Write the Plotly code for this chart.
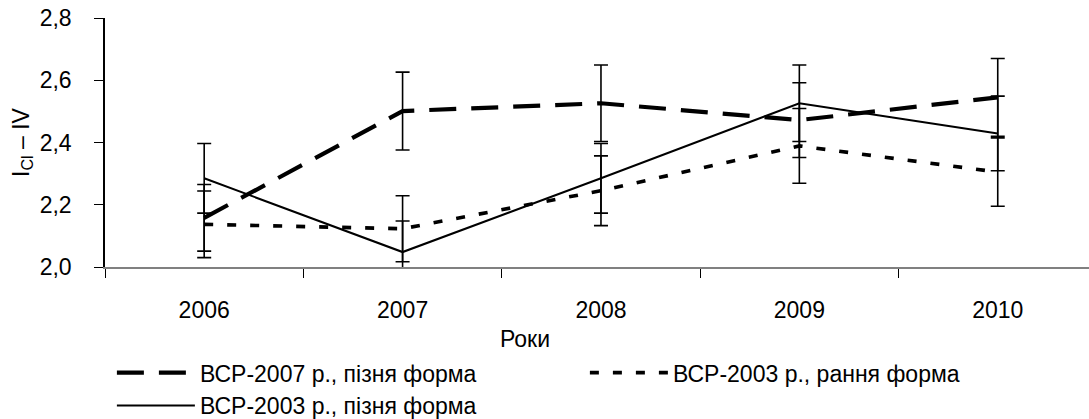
import plotly.graph_objects as go

years = ["2006", "2007", "2008", "2009", "2010"]

name_late_2007 = "ВСР-2007 р., пізня форма"
late_2007 = [2.158, 2.501, 2.526, 2.472, 2.545]
late_2007_err = [0.107, 0.125, 0.123, 0.120, 0.125]

name_early_2003 = "ВСР-2003 р., рання форма"
early_2003 = [2.137, 2.123, 2.245, 2.389, 2.305]
early_2003_err = [0.107, 0.106, 0.112, 0.120, 0.110]

name_late_2003 = "ВСР-2003 р., пізня форма"
late_2003 = [2.285, 2.048, 2.285, 2.526, 2.429]
late_2003_err = [0.112, 0.100, 0.112, 0.123, 0.120]

y_ticks = [2.0, 2.2, 2.4, 2.6, 2.8]

FONT = "Liberation Sans, Arial, sans-serif"
FS = 23

def err(vals):
    return dict(type="data", array=vals, symmetric=True, color="black",
                thickness=1.6, width=7)

fig = go.Figure()
fig.add_trace(go.Scatter(x=years, y=late_2007, name=name_late_2007, mode="lines",
                         line=dict(color="black", width=4.2, dash="27px,15px"),
                         error_y=err(late_2007_err)))
fig.add_trace(go.Scatter(x=years, y=early_2003, name=name_early_2003, mode="lines",
                         line=dict(color="black", width=3.6, dash="9px,14px"),
                         error_y=err(early_2003_err)))
fig.add_trace(go.Scatter(x=years, y=late_2003, name=name_late_2003, mode="lines",
                         line=dict(color="black", width=2),
                         error_y=err(late_2003_err)))

fig.update_layout(
    width=1089, height=419,
    margin=dict(l=105, r=0, t=18, b=152, pad=0, autoexpand=False),
    paper_bgcolor="white", plot_bgcolor="white",
    font=dict(family=FONT, size=FS, color="black"),
    separators=", ",
    showlegend=True,
    legend=dict(orientation="h", x=0.007, xanchor="left", y=-0.338, yanchor="top",
                entrywidth=380, entrywidthmode="pixels", itemwidth=78,
                font=dict(family=FONT, size=FS, color="black"),
                bgcolor="rgba(0,0,0,0)", tracegroupgap=0),
    annotations=[dict(text="Роки", xref="paper", yref="paper", x=0.427, y=-0.288,
                      xanchor="center", yanchor="middle", showarrow=False,
                      font=dict(family=FONT, size=FS, color="black"))],
)
fig.update_xaxes(type="category", range=[-0.5, 4.46], showline=True,
                 linecolor="#808080", linewidth=2, ticks="outside", tickson="boundaries",
                 ticklen=9, tickcolor="black", tickwidth=1, showgrid=False,
                 zeroline=False, ticklabelstandoff=21,
                 tickfont=dict(family=FONT, size=FS, color="black"))
fig.update_yaxes(range=[2.0, 2.8], tickvals=y_ticks, tickformat=".1f", showline=True,
                 linecolor="black", linewidth=1.5, ticks="outside", ticklen=9,
                 tickcolor="black", tickwidth=1, showgrid=False, zeroline=False,
                 ticklabelstandoff=18,
                 tickfont=dict(family=FONT, size=FS, color="black"),
                 title=dict(text="I<sub>Cl</sub> – IV" + "\u00a0" * 5, standoff=4,
                            font=dict(family=FONT, size=FS, color="black")))

fig.write_html("out.html")
